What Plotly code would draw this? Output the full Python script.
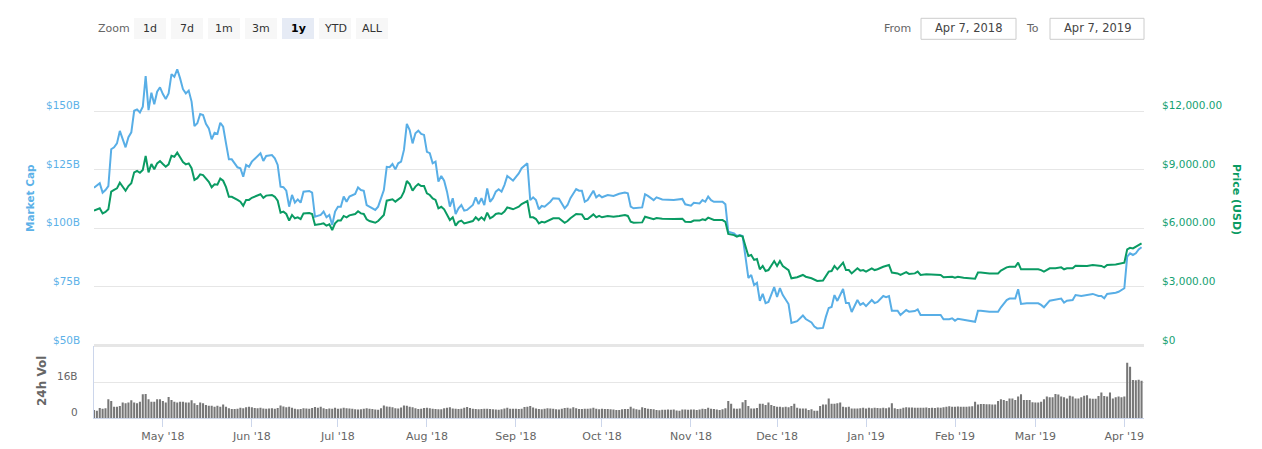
import pandas as pd
import plotly.graph_objects as go

# ---------------- data ----------------
start_date = "2018-04-07"

day_offset = [
    0, 2, 3, 4, 5, 6, 7, 8, 9, 10,
    11, 12, 13, 14, 15, 16, 17, 18, 19, 20,
    21, 22, 23, 24, 25, 26, 27, 28, 29, 30,
    31, 32, 33, 34, 35, 36, 37, 38, 39, 40,
    41, 42, 43, 44, 45, 46, 47, 48, 50, 51,
    52, 53, 54, 55, 58, 59, 60, 62, 63, 64,
    65, 66, 67, 68, 69, 70, 71, 72, 73, 75,
    76, 77, 79, 80, 81, 82, 83, 84, 85, 86,
    87, 88, 89, 91, 92, 93, 94, 95, 96, 97,
    98, 99, 101, 102, 103, 104, 105, 106, 107, 108,
    109, 110, 111, 112, 113, 114, 115, 116, 117, 118,
    119, 120, 121, 122, 123, 124, 125, 126, 127, 128,
    129, 130, 132, 133, 134, 135, 136, 137, 138, 139,
    140, 141, 142, 143, 144, 145, 146, 148, 149, 151,
    152, 153, 154, 155, 156, 157, 159, 160, 162, 164,
    165, 166, 168, 169, 170, 171, 172, 174, 175, 176,
    177, 179, 181, 183, 185, 186, 187, 188, 191, 192,
    193, 195, 196, 198, 202, 205, 206, 208, 209, 211,
    212, 213, 214, 215, 216, 219, 220, 221, 223, 224,
    225, 226, 227, 228, 229, 230, 231, 232, 233, 234,
    235, 236, 237, 238, 239, 240, 241, 242, 243, 245,
    247, 248, 250, 251, 252, 254, 255, 256, 257, 258,
    259, 260, 261, 262, 263, 264, 266, 267, 268, 269,
    271, 272, 273, 275, 276, 277, 278, 280, 281, 283,
    284, 286, 287, 288, 290, 293, 295, 296, 298, 299,
    300, 301, 303, 306, 307, 308, 309, 312, 315, 316,
    318, 319, 321, 322, 323, 325, 329, 330, 331, 333,
    335, 337, 338, 339, 341, 342, 344, 346, 348, 350,
    351, 352, 353, 356, 357, 359, 360, 361, 362, 363,
    364, 365,
]

market_cap_b = [
    117.3, 119.2, 115.2, 116.3, 118.0, 133.7, 134.5, 136.2, 141.5, 137.6,
    134.5, 138.8, 140.9, 150.1, 150.7, 149.4, 151.8, 164.9, 150.4, 157.8,
    152.9, 158.2, 160.1, 157.2, 155.1, 157.5, 165.7, 164.6, 167.8, 163.9,
    159.3, 157.5, 158.7, 154.0, 143.6, 144.8, 148.7, 148.3, 144.5, 142.6,
    137.9, 140.7, 140.2, 145.0, 143.3, 136.2, 129.4, 129.4, 126.0, 125.6,
    122.0, 127.0, 126.2, 128.4, 132.0, 128.7, 130.8, 131.2, 129.8, 127.0,
    117.7, 117.5, 116.0, 109.2, 114.2, 110.9, 112.3, 110.9, 115.6, 115.9,
    115.2, 104.9, 105.7, 107.1, 104.7, 105.7, 101.4, 107.1, 109.2, 109.2,
    113.5, 111.3, 113.5, 114.6, 117.4, 116.3, 116.0, 109.9, 109.2, 108.6,
    107.8, 109.2, 116.3, 126.2, 126.0, 127.4, 125.1, 127.7, 128.4, 133.4,
    144.5, 141.9, 136.2, 140.5, 141.6, 140.2, 139.8, 132.6, 132.0, 127.7,
    128.4, 119.9, 122.3, 120.3, 115.6, 109.2, 112.8, 106.1, 108.5, 109.9,
    107.5, 107.8, 109.9, 113.2, 110.3, 112.8, 109.9, 117.0, 111.3, 112.8,
    115.6, 116.6, 115.6, 118.4, 122.3, 121.3, 120.3, 123.4, 125.6, 127.7,
    112.0, 113.2, 112.0, 108.1, 109.5, 109.2, 111.3, 112.8, 112.6, 108.5,
    109.9, 112.8, 116.7, 116.0, 116.0, 111.3, 112.0, 116.0, 113.2, 114.2,
    113.2, 114.2, 113.8, 114.7, 115.2, 114.9, 109.2, 108.5, 108.9, 114.5,
    113.8, 112.0, 113.2, 112.3, 112.0, 112.5, 110.2, 109.6, 110.9, 110.6,
    112.0, 111.3, 113.5, 112.0, 111.3, 111.3, 110.2, 98.5, 97.8, 96.7,
    97.1, 96.7, 88.2, 78.8, 80.1, 75.8, 76.7, 69.0, 72.0, 68.1,
    68.6, 72.0, 74.9, 70.7, 74.5, 71.5, 69.8, 67.7, 59.6, 60.4,
    62.8, 61.3, 59.8, 58.1, 57.3, 57.5, 62.2, 66.0, 66.4, 71.5,
    69.0, 71.5, 74.1, 68.1, 68.1, 64.3, 69.4, 67.3, 68.1, 66.8,
    69.4, 68.1, 68.6, 71.1, 70.6, 71.1, 64.8, 64.8, 63.0, 65.1,
    64.4, 64.7, 65.4, 63.0, 63.0, 63.3, 63.0, 61.2, 61.2, 61.6,
    60.6, 61.4, 60.9, 60.1, 60.1, 64.8, 64.8, 64.4, 64.4, 66.3,
    69.4, 70.0, 70.0, 74.0, 67.7, 68.0, 68.0, 67.3, 66.3, 69.1,
    69.4, 70.0, 68.3, 69.1, 69.4, 71.5, 71.1, 71.5, 72.0, 71.1,
    71.1, 70.1, 72.0, 72.5, 72.9, 74.4, 87.9, 89.3, 88.6, 89.3,
    91.0, 91.9,
]

price_usd = [
    6900, 7020, 6760, 6830, 6970, 7870, 7960, 8040, 8330, 8130,
    7920, 8160, 8300, 8860, 8930, 8840, 8980, 9700, 8860, 9290,
    9020, 9320, 9440, 9290, 9150, 9270, 9710, 9660, 9870, 9630,
    9390, 9270, 9320, 9070, 8470, 8560, 8760, 8720, 8520, 8380,
    8100, 8250, 8230, 8540, 8430, 8100, 7610, 7610, 7450, 7360,
    7150, 7450, 7450, 7560, 7740, 7560, 7670, 7700, 7610, 7410,
    6800, 6850, 6730, 6390, 6680, 6510, 6560, 6470, 6760, 6780,
    6730, 6170, 6220, 6250, 6130, 6200, 5910, 6250, 6390, 6390,
    6630, 6560, 6660, 6730, 6870, 6760, 6730, 6460, 6370, 6320,
    6280, 6370, 6680, 7410, 7450, 7480, 7360, 7480, 7580, 7870,
    8420, 8260, 7920, 8130, 8260, 8160, 8160, 7790, 7700, 7530,
    7450, 7020, 7100, 6970, 6730, 6420, 6560, 6130, 6330, 6390,
    6250, 6280, 6370, 6560, 6420, 6560, 6420, 6800, 6510, 6590,
    6730, 6760, 6730, 6850, 7070, 7020, 6970, 7100, 7240, 7390,
    6560, 6560, 6470, 6250, 6330, 6300, 6420, 6510, 6510, 6280,
    6370, 6510, 6730, 6710, 6710, 6470, 6470, 6710, 6560, 6630,
    6560, 6630, 6590, 6630, 6680, 6630, 6330, 6280, 6300, 6590,
    6540, 6460, 6520, 6490, 6470, 6490, 6330, 6320, 6390, 6390,
    6460, 6420, 6540, 6460, 6420, 6420, 6330, 5710, 5650, 5570,
    5620, 5570, 5020, 4580, 4630, 4380, 4430, 3900, 4070, 3810,
    3860, 4070, 4320, 4070, 4320, 4070, 3950, 3860, 3440, 3490,
    3610, 3520, 3440, 3350, 3300, 3320, 3560, 3780, 3810, 4070,
    3900, 4070, 4240, 3860, 3860, 3690, 3950, 3830, 3860, 3780,
    3950, 3860, 3900, 4030, 4070, 4120, 3730, 3690, 3610, 3750,
    3660, 3690, 3780, 3610, 3640, 3610, 3610, 3490, 3490, 3520,
    3470, 3520, 3470, 3440, 3420, 3730, 3730, 3690, 3690, 3830,
    4000, 4030, 4030, 4240, 3900, 3900, 3900, 3860, 3780, 3950,
    3950, 4000, 3900, 3950, 3950, 4080, 4080, 4070, 4120, 4070,
    4070, 4000, 4120, 4150, 4170, 4240, 4920, 5000, 4970, 5060,
    5140, 5230,
]

# daily 24h volume, $B, one value per day from Apr 7 2018
volume_apr18 = [3.6, 3.3, 4.5, 4.2, 4.4, 8.4, 7.6, 5.1, 5.0, 5.4, 6.9, 6.6, 6.9, 8.0, 6.9, 6.6,
                7.3, 10.6, 10.8, 8.4, 7.3, 7.3, 8.4, 8.4]
volume_may18 = [7.6, 6.9, 9.4, 8.1, 7.3, 6.9, 7.3, 7.3, 6.9, 7.0, 8.0, 6.6, 5.8, 6.9, 6.6, 5.8,
                5.5, 5.5, 5.1, 5.5, 5.1, 6.0, 5.0, 4.4, 4.0, 4.0, 4.2, 4.6, 4.4, 4.8, 5.0]
volume_jun18 = [4.8, 4.5, 4.4, 4.6, 4.3, 4.2, 4.3, 4.4, 4.2, 4.5, 5.6, 5.2, 4.8, 5.0, 4.6, 4.2,
                3.9, 4.0, 4.4, 4.3, 4.2, 4.5, 4.9, 4.6, 5.0, 4.4, 4.0, 4.3, 4.1, 4.6]
volume_jul18 = [4.2, 4.3, 4.6, 4.4, 4.3, 4.1, 3.9, 3.8, 3.9, 4.2, 4.4, 4.1, 4.0, 3.8, 3.7, 4.4,
                5.6, 5.2, 5.1, 4.8, 4.4, 4.3, 4.7, 5.6, 5.5, 5.0, 4.8, 4.4, 4.0, 4.2, 4.5]
volume_aug18 = [4.6, 4.4, 4.1, 4.0, 3.9, 3.9, 4.4, 4.6, 4.8, 4.3, 4.2, 4.0, 4.2, 4.6, 4.9, 4.5,
                4.2, 4.0, 3.9, 4.0, 4.1, 4.1, 4.0, 3.9, 3.8, 3.7, 3.9, 4.3, 4.6, 4.1, 4.2]
volume_sep18 = [4.1, 4.0, 4.2, 4.9, 5.0, 5.4, 4.7, 4.3, 4.0, 3.9, 4.2, 4.4, 4.3, 4.1, 3.9, 3.8,
                4.1, 4.5, 4.6, 4.3, 4.8, 4.4, 4.0, 4.0, 4.2, 4.1, 4.3, 4.6, 4.1, 3.9]
volume_oct18 = [4.1, 4.0, 4.0, 3.9, 3.8, 3.6, 3.6, 3.9, 4.0, 4.0, 5.0, 4.3, 3.9, 3.7, 4.8, 4.5,
                4.1, 4.0, 3.9, 3.6, 3.5, 3.7, 3.7, 3.8, 3.7, 3.8, 3.4, 3.3, 3.8, 3.8, 3.7]
volume_nov18 = [3.8, 3.8, 3.6, 3.8, 4.1, 4.0, 4.6, 4.2, 4.0, 3.8, 3.6, 3.9, 4.4, 7.6, 6.4, 4.3,
                4.2, 4.3, 7.1, 8.1, 5.4, 4.3, 4.3, 4.5, 6.4, 6.4, 5.8, 6.9, 5.8, 5.4]
volume_dec18 = [5.1, 5.1, 4.8, 5.1, 4.8, 5.4, 6.4, 4.6, 4.3, 4.3, 4.3, 3.6, 3.9, 3.3, 3.2, 5.4,
                6.1, 6.1, 8.8, 6.4, 6.4, 6.6, 6.9, 5.1, 4.8, 5.1, 4.3, 4.3, 4.3, 4.4, 4.6]
volume_jan19 = [4.3, 4.6, 4.4, 4.6, 4.5, 4.4, 4.6, 4.4, 4.7, 6.6, 4.4, 4.0, 4.2, 4.6, 4.8, 4.7,
                4.7, 4.6, 4.6, 4.6, 4.6, 4.7, 4.5, 4.6, 4.5, 4.7, 4.6, 4.8, 5.0, 5.3, 5.0]
volume_feb19 = [5.1, 5.2, 5.0, 5.0, 5.1, 5.2, 5.3, 7.3, 6.0, 6.3, 6.3, 6.2, 6.2, 6.0, 6.0, 7.6,
                8.4, 8.1, 7.6, 8.8, 8.8, 8.1, 9.6, 10.7, 8.1, 8.1, 8.1, 7.1]
volume_mar19 = [7.0, 7.0, 7.3, 8.4, 9.6, 9.3, 9.3, 10.8, 10.5, 9.6, 9.3, 8.8, 10.0, 9.6, 8.8, 8.8,
                9.3, 10.0, 10.2, 8.8, 8.6, 8.6, 9.9, 11.4, 9.9, 9.6, 11.4, 8.8, 9.3, 9.6, 9.3]
volume_apr19 = [9.6, 24.8, 23.0, 17.0, 16.9, 17.1, 16.7]

month_ticks = ["2018-05-01", "2018-06-01", "2018-07-01", "2018-08-01", "2018-09-01",
               "2018-10-01", "2018-11-01", "2018-12-01", "2019-01-01", "2019-02-01",
               "2019-03-01", "2019-04-01"]
month_labels = ["May '18", "Jun '18", "Jul '18", "Aug '18", "Sep '18", "Oct '18",
                "Nov '18", "Dec '18", "Jan '19", "Feb '19", "Mar '19", "Apr '19"]

mcap_ticks = [50, 75, 100, 125, 150]
price_ticks = [0, 3000, 6000, 9000, 12000]
volume_ticks = [0, 16]

zoom_buttons = ["1d", "7d", "1m", "3m", "1y", "YTD", "ALL"]
selected_button = "1y"
from_text = "Apr 7, 2018"
to_text = "Apr 7, 2019"

# ---------------- build ----------------
assert len(day_offset) == len(market_cap_b) == len(price_usd)
t0 = pd.Timestamp(start_date)
line_dates = [t0 + pd.Timedelta(days=d) for d in day_offset]
volume_b = (volume_apr18 + volume_may18 + volume_jun18 + volume_jul18 + volume_aug18 +
            volume_sep18 + volume_oct18 + volume_nov18 + volume_dec18 + volume_jan19 +
            volume_feb19 + volume_mar19 + volume_apr19)
vol_dates = [t0 + pd.Timedelta(days=i) for i in range(len(volume_b))]

W, H = 1262, 449
L, R, T, B = 94, 118, 52, 31
PW, PH = W - L - R, H - T - B
split = 72.5 / PH  # volume pane height share


def px(x):
    return (x - L) / PW


def py(y):
    return (H - B - y) / PH


FONT = "DejaVu Sans"
BLUE = "#58aee6"
GREEN = "#0a9b63"
BLUE_TXT = "#5cb1e8"
GREEN_TXT = "#169f72"
GRAY = "#666666"


def note(text, x, y, size=11, color=GRAY, xanchor="center", angle=0, **kw):
    d = dict(text=text, x=x, y=y, xanchor=xanchor, yanchor="middle", textangle=angle,
             showarrow=False, font=dict(family=FONT, size=size, color=color))
    d.setdefault("xref", "paper")
    d.setdefault("yref", "paper")
    d.update(kw)
    return d


fig = go.Figure()
fig.add_trace(go.Bar(x=vol_dates, y=volume_b, yaxis="y3", marker=dict(color="#777777", line=dict(width=0)),
                     hoverinfo="skip"))
fig.add_trace(go.Scatter(x=line_dates, y=market_cap_b, mode="lines", yaxis="y",
                         line=dict(color=BLUE, width=2), hoverinfo="skip"))
fig.add_trace(go.Scatter(x=line_dates, y=price_usd, mode="lines", yaxis="y2",
                         line=dict(color=GREEN, width=2), hoverinfo="skip"))

x_end = t0 + pd.Timedelta(days=PW / 2.87)

annotations = []
for v in mcap_ticks:
    annotations.append(note(f"${v}B", px(82), v, size=10.5, color=BLUE_TXT, xanchor="right",
                            yref="y", yshift=6))
for v in price_ticks:
    annotations.append(note("$0" if v == 0 else f"${v:,.2f}", px(1160), v, size=10.5, color=GREEN_TXT,
                            xanchor="left", yref="y2", yshift=6))
for v in volume_ticks:
    annotations.append(note("0" if v == 0 else f"{v}B", px(80), v, size=10.5, xanchor="right",
                            yref="y3", yshift=6))

annotations += [
    note("<b>Market Cap</b>", px(30), py(198), size=10.5, color=BLUE_TXT, angle=-90),
    note("<b>Price (USD)</b>", px(1237), py(199), color=GREEN, angle=90),
    note("<b>24h Vol</b>", px(42), py(381), size=12, angle=-90),
    note("Zoom", px(96), py(28.5), xanchor="left"),
    note("From", px(913), py(28.5), xanchor="right"),
    note("To", px(1041), py(28.5), xanchor="right"),
    note(from_text, px(968.5), py(28.5), size=11.5, color="#444444"),
    note(to_text, px(1097), py(28.5), size=11.5, color="#444444"),
]

shapes = [
    dict(type="line", xref="paper", yref="paper", x0=0, x1=1, y0=split, y1=split,
         line=dict(color="#e6e6e6", width=3), layer="below"),
    dict(type="rect", xref="paper", yref="paper", x0=px(921), x1=px(1016), y0=py(39.3), y1=py(18.3),
         line=dict(color="#cccccc", width=1), fillcolor="white", layer="below"),
    dict(type="rect", xref="paper", yref="paper", x0=px(1050), x1=px(1144), y0=py(39.3), y1=py(18.3),
         line=dict(color="#cccccc", width=1), fillcolor="white", layer="below"),
]
bx = 134
for lab in zoom_buttons:
    sel = lab == selected_button
    shapes.append(dict(type="rect", xref="paper", yref="paper", x0=px(bx), x1=px(bx + 32),
                       y0=py(39), y1=py(18), line=dict(width=0),
                       fillcolor="#e6ebf5" if sel else "#f7f7f7", layer="below"))
    annotations.append(note(f"<b>{lab}</b>" if sel else lab, px(bx + 16), py(28.5),
                            color="#000000" if sel else "#333333"))
    bx += 37

fig.update_layout(
    template="none",
    width=W, height=H,
    margin=dict(l=L, r=R, t=T, b=B, pad=0, autoexpand=False),
    paper_bgcolor="white", plot_bgcolor="white",
    showlegend=False, bargap=0.28,
    font=dict(family=FONT, size=11, color=GRAY),
    xaxis=dict(type="date", range=[t0, x_end], anchor="y3", tickvals=month_ticks, ticktext=month_labels,
               ticks="outside", ticklen=8, tickcolor="#ccd6eb", showline=True, linecolor="#ccd6eb",
               showgrid=False, zeroline=False, tickfont=dict(family=FONT, size=11, color=GRAY),
               automargin=False, fixedrange=True),
    yaxis=dict(domain=[split, 1], range=[50, 50 + (PH - 72.5) / 2.345], tickvals=mcap_ticks,
               showticklabels=False, ticks="", gridcolor="#e6e6e6", gridwidth=1, zeroline=False,
               showline=False, anchor="x", automargin=False),
    yaxis2=dict(overlaying="y", side="right", range=[0, (PH - 72.5) * 51.17], tickvals=price_ticks,
                showticklabels=False, ticks="", showgrid=False, zeroline=False, showline=False,
                anchor="x", automargin=False),
    yaxis3=dict(domain=[0, split], range=[0, 72.5 / 2.23], tickvals=volume_ticks, showticklabels=False,
                ticks="", gridcolor="#e6e6e6", gridwidth=1, zeroline=False, showline=True,
                linecolor="#ccd6eb", anchor="x", automargin=False),
    annotations=annotations,
    shapes=shapes,
)

fig.write_html("out.html")
